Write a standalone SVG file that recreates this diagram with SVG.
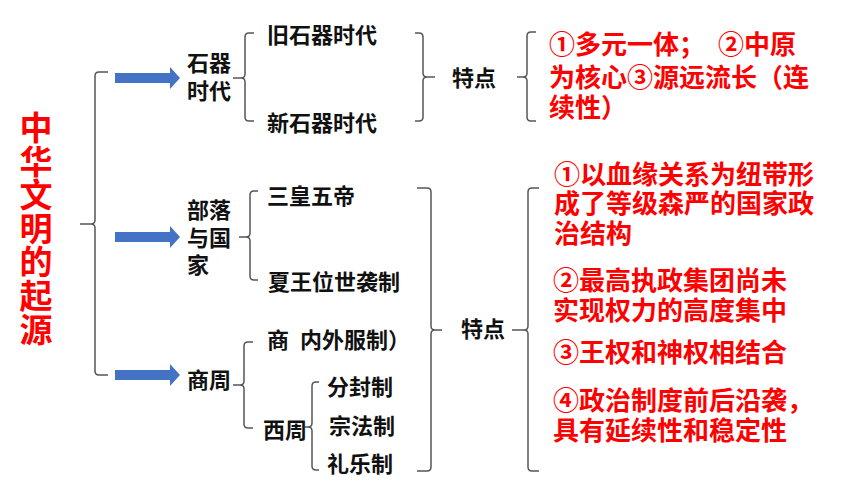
<svg xmlns="http://www.w3.org/2000/svg" width="860" height="484" viewBox="0 0 860 484">
<style>
.t{font-family:"Liberation Sans","Noto Sans CJK SC",sans-serif;font-weight:bold;font-size:22px;fill:#111}
.r{font-family:"Liberation Sans","Noto Sans CJK SC",sans-serif;font-weight:bold;font-size:26px;fill:#ff0000}
.ttl{font-family:"Noto Sans CJK SC","Noto Sans",sans-serif;font-weight:bold;font-size:33px;fill:#ff0000;writing-mode:vertical-rl;letter-spacing:0.6px}
.b{fill:none;stroke:#555;stroke-width:1.5}
.ar{fill:#4472c4}
</style>
<rect width="860" height="484" fill="#fff"/>
<g id="title">
<text class="ttl" x="36" y="111">中华文明的起源</text>
</g>
<g id="connectors">
<path class="b" d="M108,72 H99 Q95,72 95,76 V220 Q95,224 91,224 H80 M91,224 Q95,224 95,228 V371 Q95,375 99,375 H108"/>
<path class="b" d="M254,33 H249 Q245,33 245,37 V74 Q245,78 241,78 H233 M241,78 Q245,78 245,82 V117 Q245,121 249,121 H254"/>
<path class="b" d="M258,191 H254 Q250,191 250,195 V233 Q250,237 246,237 H239 M246,237 Q250,237 250,241 V276 Q250,280 254,280 H258"/>
<path class="b" d="M253,342 H248 Q244,342 244,346 V381 Q244,385 240,385 H233 M240,385 Q244,385 244,389 V424 Q244,428 248,428 H253"/>
<path class="b" d="M319,382 H316 Q312,382 312,386 V423 Q312,427 308,427 H305 M308,427 Q312,427 312,431 V466 Q312,470 316,470 H319"/>
<path class="b" d="M415,33 H419 Q423,33 423,37 V73 Q423,77 427,77 H435 M427,77 Q423,77 423,81 V117 Q423,121 419,121 H415"/>
<path class="b" d="M536,32 H531 Q527,32 527,36 V73 Q527,77 523,77 H517 M523,77 Q527,77 527,81 V117 Q527,121 531,121 H536"/>
<path class="b" d="M417,188 H427 Q431,188 431,192 V326 Q431,330 435,330 H442 M435,330 Q431,330 431,334 V467 Q431,471 427,471 H417"/>
<path class="b" d="M539,188 H532 Q528,188 528,192 V326 Q528,330 524,330 H512 M524,330 Q528,330 528,334 V467 Q528,471 532,471 H539"/>
<path class="ar" d="M115,73 H170 V67 L180,78 L170,89 V83 H115 Z"/>
<path class="ar" d="M115,232 H170 V226 L180,237 L170,248 V242 H115 Z"/>
<path class="ar" d="M115,370 H170 V364 L180,375 L170,386 V380 H115 Z"/>
</g>
<g id="node-shiqi"><text class="t" x="187" y="71">石器<tspan x="187" y="99">时代</tspan></text></g>
<g id="node-jiu"><text class="t" x="267" y="43">旧石器时代</text></g>
<g id="node-xin"><text class="t" x="267" y="131">新石器时代</text></g>
<g id="node-tedian1"><text class="t" x="452" y="86">特点</text></g>
<g id="node-red1">
<text class="r" x="549" y="54">①多元一体；<tspan x="718">②中原</tspan><tspan x="549" y="87">为核心③源远流长（连</tspan><tspan x="549" y="117">续性）</tspan></text>
</g>
<g id="node-buluo"><text class="t" x="187" y="218">部落<tspan x="187" y="246">与国</tspan><tspan x="187" y="273">家</tspan></text></g>
<g id="node-sanhuang"><text class="t" x="267" y="204">三皇五帝</text></g>
<g id="node-xia"><text class="t" x="268" y="290">夏王位世袭制</text></g>
<g id="node-shangzhou"><text class="t" x="187" y="388">商周</text></g>
<g id="node-shang"><text class="t" x="267" y="348">商<tspan x="300">内外服制）</tspan></text></g>
<g id="node-xizhou"><text class="t" x="263" y="438">西周</text></g>
<g id="node-fenfeng"><text class="t" x="327" y="395">分封制</text></g>
<g id="node-zongfa"><text class="t" x="329" y="434">宗法制</text></g>
<g id="node-liyue"><text class="t" x="327" y="472">礼乐制</text></g>
<g id="node-tedian2"><text class="t" x="461" y="337">特点</text></g>
<g id="node-red2">
<text class="r" x="554" y="184">①以血缘关系为纽带形<tspan x="554" y="213">成了等级森严的国家政</tspan><tspan x="554" y="243">治结构</tspan></text>
<text class="r" x="553" y="290">②最高执政集团尚未<tspan x="553" y="320">实现权力的高度集中</tspan></text>
<text class="r" x="553" y="362">③王权和神权相结合</text>
<text class="r" x="553" y="410">④政治制度前后沿袭，<tspan x="553" y="440">具有延续性和稳定性</tspan></text>
</g>
</svg>
